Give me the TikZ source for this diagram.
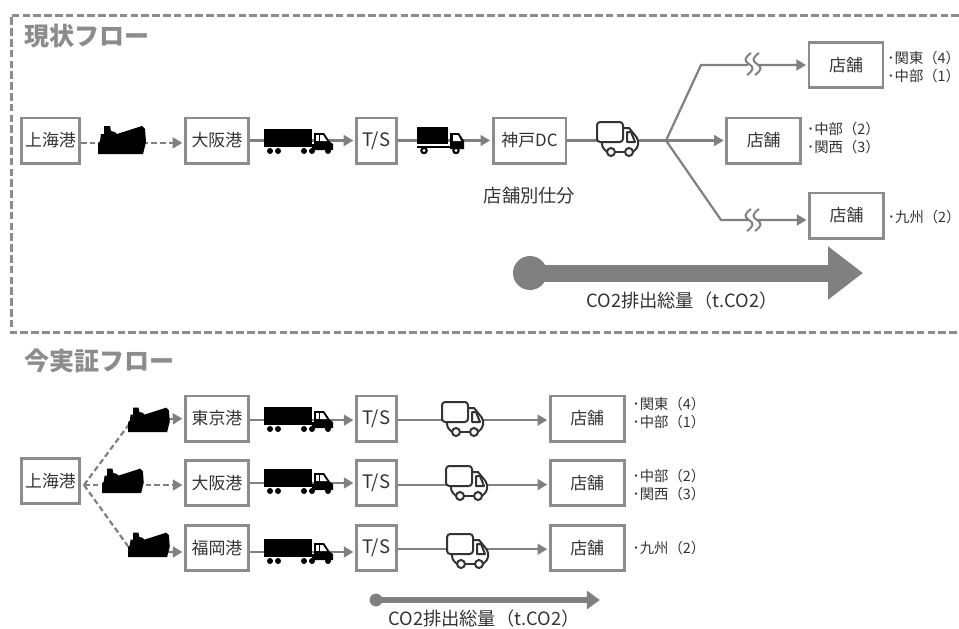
\documentclass[tikz,border=0pt]{standalone}
\usepackage{fontspec}
\setmainfont{Noto Sans CJK JP}
\usetikzlibrary{arrows.meta,positioning,calc}
\definecolor{boxgray}{HTML}{8C8C8C}
\definecolor{flowgray}{HTML}{808080}
\definecolor{inkgray}{HTML}{333333}

\begin{document}
\begin{tikzpicture}[
    x=0.25mm, y=-0.25mm,
    font=\fontsize{12}{14}\selectfont,
    text=inkgray,
    >={Triangle[length=2.4mm,width=2.7mm]},
    block/.style  ={rectangle, draw=boxgray, line width=0.7mm, fill=white,
                    minimum height=11.3mm, inner sep=0pt, align=center},
    sea/.style    ={block, minimum width=14.5mm},
    port/.style   ={block, minimum width=15.8mm},
    tsbox/.style  ={block, minimum width=10mm, font=\fontsize{13.2}{15}\selectfont},
    dcbox/.style  ={block, minimum width=18.2mm},
    store/.style  ={block, minimum width=18.5mm},
    flow/.style   ={->, draw=flowgray, line width=0.55mm, shorten >=0.4mm},
    plain/.style  ={draw=flowgray, line width=0.55mm},
    dflow/.style  ={plain, dash pattern=on 1.4mm off 0.8mm},
    frame/.style  ={draw=boxgray, line width=0.75mm, dash pattern=on 1.9mm off 0.8mm},
    title/.style  ={font=\fontsize{17.8}{20}\selectfont\bfseries, text=boxgray,
                    inner sep=0pt, anchor=west},
    area/.style   ={font=\fontsize{10.2}{12.8}\selectfont, inner sep=0pt, align=left},
    lbl/.style    ={font=\fontsize{13}{15}\selectfont, inner sep=0pt},
    codot/.style  ={circle, fill=flowgray, inner sep=0pt},
    shipicon/.pic ={
      \fill[black] (0,0) -- (0,-11) -- (2,-13) -- (3,-20) -- (6,-20) -- (6,-28)
        -- (12,-28) -- (13,-23) -- (17,-22) -- (19,-20) -- (44,-28) -- (47,-25)
        -- (48,-12) -- (45,0) -- cycle;
    },
    lorryicon/.pic={
      \fill[black] (0,0) rectangle (48,18);
      \fill[black] (48,15) rectangle (52,21);
      \fill[black] (50,4) -- (60,4) -- (66,13) -- (69,15) -- (69,21) -- (50,21) -- cycle;
      \fill[white] (52,6) rectangle (55,12);
      \fill[white] (56,6) -- (59,6) -- (63,12) -- (56,12) -- cycle;
      \foreach \wx in {6,14,40,48,64}
        \fill[black] (\wx,22) circle[radius=3];
    },
    truckicon/.pic={
      \fill[black] (0,0) rectangle (31,17);
      \fill[black] (0,18.5) rectangle (33,21);
      \fill[black] (33,6) -- (42,6) -- (47,14) -- (47,22) -- (33,22) -- cycle;
      \fill[white] (36,8) -- (41,8) -- (44,14) -- (36,14) -- cycle;
      \foreach \wx in {7,39} {
        \fill[black] (\wx,23.5) circle[radius=3.8];
        \fill[white] (\wx,23.5) circle[radius=1.7];
      }
    },
    vanicon/.pic  ={
      \begin{scope}[draw=inkgray, line width=0.5mm, line join=round]
        \path[fill=white] (5,18) rectangle (38,29);
        \path[fill=white] (26,6) -- (33,6) -- (41,17) -- (41,25) -- (36,30) -- (26,30) -- cycle;
        \draw (26,6) -- (32,6) [rounded corners=0.5mm] -- (41,17) -- (41,25) -- (36,30);
        \draw (30,10) -- (34,10) -- (38,20) -- (30,20) -- cycle;
        \draw[rounded corners=0.7mm] (5,20) -- (5,25) -- (10,30);
        \draw (18,30) -- (28,30);
        \draw[fill=white, rounded corners=0.8mm] (0,0) rectangle (26,20);
        \draw[fill=white] (14,30) circle[radius=4];
        \draw[fill=white] (32,30) circle[radius=4];
      \end{scope}
    },
    breakmark/.pic={
      \fill[white] (-5,-11) rectangle (5,11);
      \foreach \bx in {-4,4}
        \draw[plain, line width=0.5mm, shift={(\bx,0)}]
          (2,-11) .. controls (-5,-6) and (-5,-3) .. (0,0)
          .. controls (5,3) and (5,6) .. (-2,11);
    },
]
\useasboundingbox (0,0) rectangle (959,628);

% ----------------------------------------------------------------------
%  current flow
% ----------------------------------------------------------------------
\coordinate (frametr) at (959,15);
\coordinate (frametl) at (11,15);
\coordinate (framebl) at (11,332);
\coordinate (framebr) at (959,332);
\draw[frame] (frametr) -- (frametl) -- (framebl) -- (framebr);

\node[title] (titlenow) at (24,36) {現状フロー};

\node[sea] (shtop) at (50.5,140.5) {上海港};
\node[port, right=25.75mm of shtop] (ostop) {大阪港};
\node[tsbox, right=26.25mm of ostop] (tstop) {T/S};
\node[dcbox, right=23.5mm of tstop] (dctop) {神戸DC};
\node[store, right=39.5mm of dctop] (storemid) {店舗};
\node[store] (storeup) at (846,65) {店舗};
\node[store] (storelow) at (846.5,215.5) {店舗};

\node[area, right=0.7mm of storeup, yshift=-0.5mm] (areaup) {･関東（4）\\･中部（1）};
\node[area, right=1.2mm of storemid, yshift=0.5mm] (areamid) {･中部（2）\\･関西（3）};
\node[area, right=0.7mm of storelow, yshift=-0.5mm] (arealow) {･九州（2）};
\node[font=\fontsize{13}{15}\selectfont, inner sep=0pt, below=5.5mm of dctop] (sorting) {店舗別仕分};

\coordinate (forktop) at (666,140.5);
\coordinate (bendup) at (701,65);
\coordinate (bendlow) at (721,220);

\draw[dflow, ->, shorten >=0.4mm] ([yshift=-0.6mm]shtop.east) -- ([yshift=-0.6mm]ostop.west);
\draw[flow] (ostop) -- (tstop);
\draw[flow] (tstop) -- (dctop);
\draw[plain] (dctop) -- (forktop);
\draw[flow] (forktop) -- (storemid);
\draw[flow] (forktop) -- (bendup) -- (storeup);
\draw[flow] (forktop) -- (bendlow) -- (storelow.west |- bendlow);

\pic at (98,154) {shipicon};
\pic at (264,129) {lorryicon};
\pic at (417,127) {truckicon};
\pic at (597,122) {vanicon};
\pic at (753,64) {breakmark};
\pic at (753,220) {breakmark};

% total amount, large
\node[codot, minimum size=8.5mm] (dottop) at (530,273) {};
\coordinate (tiptop) at (863,273);
\draw[flowgray, line width=4.25mm, -{Triangle[length=8.75mm,width=12.75mm]}] (dottop.center) -- (tiptop);
\node[lbl] (cotop) at (682,301) {CO2排出総量（t.CO2）};

% ----------------------------------------------------------------------
%  new flow
% ----------------------------------------------------------------------
\node[title] (titlenew) at (24,361) {今実証フロー};

\node[sea] (shnew) at (50.5,481) {上海港};

\node[port] (tokyo) at (217,418.5) {東京港};
\node[tsbox, right=26.25mm of tokyo] (tsa) {T/S};
\node[store, right=37.75mm of tsa] (storea) {店舗};
\node[area, right=1.7mm of storea, yshift=1.3mm] (areaa) {･関東（4）\\･中部（1）};

\node[port] (osaka) at (217,483) {大阪港};
\node[tsbox, right=26.25mm of osaka] (tsb) {T/S};
\node[store, right=37.75mm of tsb] (storeb) {店舗};
\node[area, right=1.7mm of storeb, yshift=-0.5mm] (areab) {･中部（2）\\･関西（3）};

\node[port] (fukuoka) at (217,548) {福岡港};
\node[tsbox, right=26.25mm of fukuoka] (tsc) {T/S};
\node[store, right=37.75mm of tsc] (storec) {店舗};
\node[area, right=1.7mm of storec] (areac) {･九州（2）};

\coordinate (forknew) at (84,485);
\coordinate (shipina) at (130,423);
\coordinate (shipouta) at (168,419);
\coordinate (shipinc) at (130,549);
\coordinate (shipoutc) at (168,552);

\draw[dflow] (forknew) -- (shipina);
\draw[dflow, ->, shorten >=0.4mm] (shipouta) -- (tokyo.west);
\draw[dflow, ->, shorten >=0.4mm] (forknew) -- (osaka.west |- forknew);
\draw[dflow] (forknew) -- (shipinc);
\draw[dflow, ->, shorten >=0.4mm] (shipoutc) -- ([yshift=-1mm]fukuoka.west);

\draw[flow] ([yshift=-0.4mm]tokyo.east) -- ([yshift=-0.4mm]tsa.west);
\draw[flow] (osaka) -- (tsb);
\draw[flow] ([yshift=-1mm]fukuoka.east) -- ([yshift=-1mm]tsc.west);
\draw[flow] ([yshift=-0.4mm]tsa.east) -- ([yshift=-0.4mm]storea.west);
\draw[flow] ([yshift=-0.4mm]tsb.east) -- ([yshift=-0.4mm]storeb.west);
\draw[flow] ([yshift=-0.3mm]tsc.east) -- ([yshift=-0.3mm]storec.west);

\pic[scale=0.87] at (128,432) {shipicon};
\pic[scale=0.87] at (102,493) {shipicon};
\pic[scale=0.87] at (128,557) {shipicon};
\pic at (264,407) {lorryicon};
\pic at (264,469) {lorryicon};
\pic at (264,539) {lorryicon};
\pic at (442,402) {vanicon};
\pic at (446,466) {vanicon};
\pic at (447,534) {vanicon};

% total amount, small
\node[codot, minimum size=3.2mm] (dotnew) at (376,600) {};
\coordinate (tipnew) at (600,600);
\draw[flowgray, line width=1.5mm, -{Triangle[length=3.3mm,width=4.5mm]}] (dotnew.center) -- (tipnew);
\node[lbl] (conew) at (484,619) {CO2排出総量（t.CO2）};

\end{tikzpicture}
\end{document}
